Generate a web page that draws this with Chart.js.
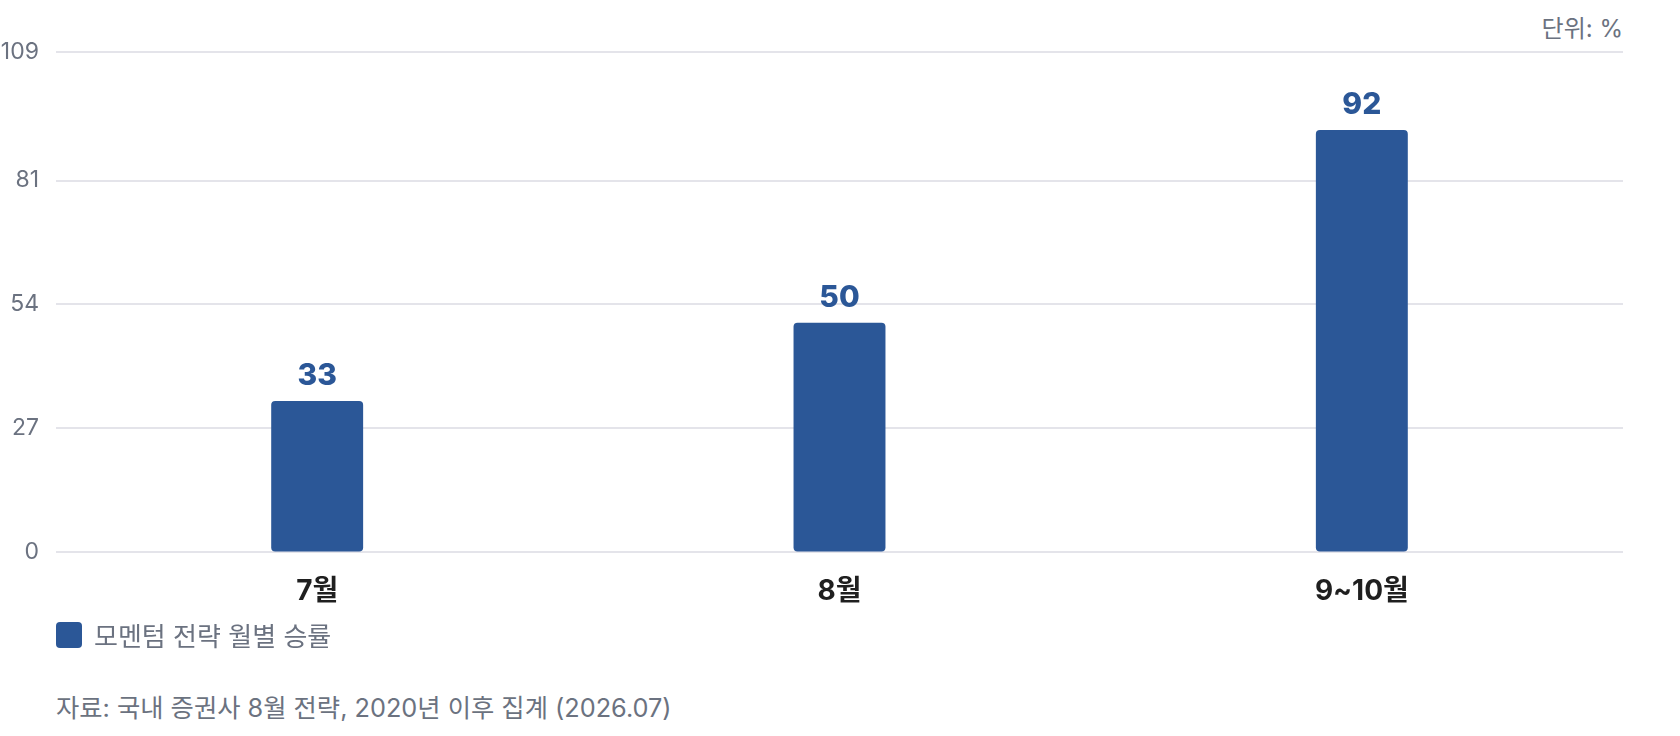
<!DOCTYPE html>
<html lang="ko">
<head>
<meta charset="utf-8">
<script src="https://cdn.jsdelivr.net/npm/chart.js@4.4.1/dist/chart.umd.min.js"></script>
<style>
  html, body { margin: 0; padding: 0; background: #ffffff; }
  body { width: 1680px; height: 736px; position: relative; overflow: hidden;
         font-family: Inter, "Noto Sans CJK KR", "Noto Sans", sans-serif; }
  #unit { position: absolute; right: 57px; top: 9px; font-size: 24px; color: #6b7280; }
  #wrap { position: absolute; left: 0; top: 0; width: 1680px; height: 632px; }
  #legend { position: absolute; left: 56px; top: 616px; display: flex; align-items: center; font-size: 26px; color: #6b7280; }
  #legend .box { width: 26px; height: 26px; border-radius: 4px; margin-right: 12px; }
  #source { position: absolute; left: 56px; top: 688px; font-size: 25.3px; color: #6b7280; }
</style>
</head>
<body>
<div id="unit">단위: %</div>
<div id="wrap"><canvas id="c"></canvas></div>
<div id="legend"></div>
<div id="source">자료: 국내 증권사 8월 전략, 2020년 이후 집계 (2026.07)</div>
<script>
const categories = ['7월', '8월', '9~10월'];
const seriesLabel = '모멘텀 전략 월별 승률';
const seriesValues = [33, 50, 92];
const yTicks = [0, 27, 54, 81, 109];

const BAR_COLOR = '#2b5797';
const FONT = 'Inter, "Noto Sans CJK KR", "Noto Sans", sans-serif';

const valueLabels = {
  id: 'valueLabels',
  afterDatasetsDraw(chart) {
    const ctx = chart.ctx;
    ctx.save();
    ctx.font = '800 30px ' + FONT;
    ctx.fillStyle = BAR_COLOR;
    ctx.textAlign = 'center';
    ctx.textBaseline = 'bottom';
    chart.getDatasetMeta(0).data.forEach((bar, i) => {
      ctx.fillText(String(chart.data.datasets[0].data[i]), bar.x, bar.y - 10);
    });
    ctx.restore();
  }
};

const chart = new Chart(document.getElementById('c'), {
  type: 'bar',
  data: {
    labels: categories,
    datasets: [{
      label: seriesLabel,
      data: seriesValues,
      backgroundColor: BAR_COLOR,
      borderRadius: 4,
      borderSkipped: false,
      barPercentage: 0.22,
      categoryPercentage: 0.8
    }]
  },
  options: {
    responsive: true,
    maintainAspectRatio: false,
    animation: false,
    devicePixelRatio: 1,
    layout: { padding: { top: 52, right: 57, bottom: 2, left: 0 } },
    plugins: {
      legend: { display: false },
      tooltip: { enabled: false }
    },
    scales: {
      x: {
        grid: { display: false, drawTicks: false },
        border: { display: false },
        ticks: { color: '#1f1f1f', font: { family: FONT, size: 28, weight: 'bold' }, padding: 22 }
      },
      y: {
        min: 0, max: 109,
        afterBuildTicks(axis) { axis.ticks = yTicks.map(v => ({ value: v })); },
        afterFit(axis) { axis.width = 56; },
        grid: { color: '#e4e4ea', lineWidth: 2, drawTicks: false },
        border: { display: false },
        ticks: { color: '#6b7280', font: { family: FONT, size: 23 }, padding: 17 }
      }
    }
  },
  plugins: [valueLabels]
});

const legend = document.getElementById('legend');
chart.data.datasets.forEach(ds => {
  const box = document.createElement('span');
  box.className = 'box';
  box.style.background = ds.backgroundColor;
  const txt = document.createElement('span');
  txt.textContent = ds.label;
  legend.appendChild(box);
  legend.appendChild(txt);
});
</script>
</body>
</html>
